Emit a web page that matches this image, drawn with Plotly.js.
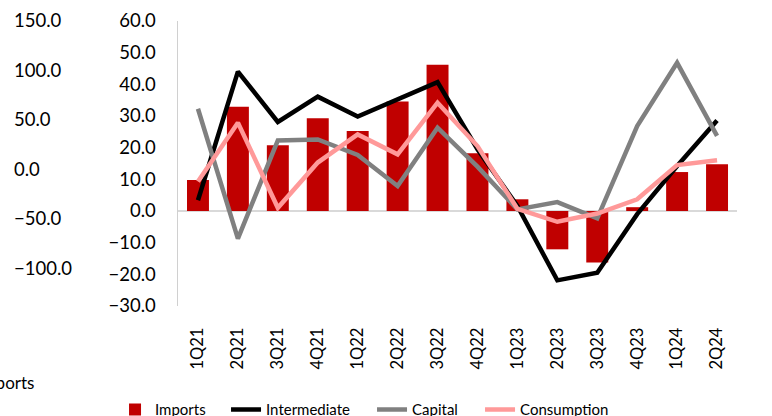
<!DOCTYPE html>
<html>
<head>
<meta charset="utf-8">
<script src="https://cdn.plot.ly/plotly-3.0.1.min.js"></script>
<style>html,body{margin:0;padding:0;background:#fff;}#chart{width:772px;height:416px;}</style>
</head>
<body>
<div id="chart"></div>
<script>
var quarters = ['1Q21','2Q21','3Q21','4Q21','1Q22','2Q22','3Q22','4Q22','1Q23','2Q23','3Q23','4Q23','1Q24','2Q24'];
var imports      = [9.8, 32.9, 20.8, 29.3, 25.3, 34.6, 46.2, 18.2, 3.7, -12.1, -16.3, 1.2, 12.3, 14.8];
var intermediate = [3.4, 44.0, 28.1, 36.1, 29.8, 35.3, 40.7, 19.5, 1.6, -21.9, -19.5, -1.0, 14.2, 28.6];
var capital      = [32.3, -8.7, 22.3, 22.6, 17.7, 7.9, 26.3, 14.0, 0.5, 2.8, -2.3, 26.8, 46.8, 23.7];
var consumption  = [9.3, 27.9, 1.0, 15.3, 24.2, 17.9, 34.2, 20.5, 0.7, -3.4, -0.8, 3.7, 14.5, 16.0];
var outerTicks   = [150, 100, 50, 0, -50, -100];

var FONT = 'Lato, "Open Sans", sans-serif';

var traces = [
  {type:'bar', name:'Imports', x:quarters, y:imports, marker:{color:'#C00000'}, width:0.55, legendwidth:66},
  {type:'scatter', mode:'lines', name:'Intermediate', x:quarters, y:intermediate, line:{color:'#000000', width:4.5}, legendwidth:101},
  {type:'scatter', mode:'lines', name:'Capital', x:quarters, y:capital, line:{color:'#808080', width:4.5}, legendwidth:63},
  {type:'scatter', mode:'lines', name:'Consumption', x:quarters, y:consumption, line:{color:'#FF9999', width:4.5}}
];

var layout = {
  width:772, height:416,
  margin:{l:10, r:35, t:21, b:110},
  paper_bgcolor:'#ffffff', plot_bgcolor:'#ffffff',
  font:{family:FONT, color:'#000000', size:16},
  showlegend:true,
  legend:{orientation:'h', xref:'container', yref:'container', x:0.149, y:0.015, xanchor:'left', yanchor:'middle',
          font:{family:FONT, size:15, color:'#000'}, bgcolor:'rgba(0,0,0,0)'},
  xaxis:{domain:[0.2311, 1], type:'category', showline:false, showgrid:false, zeroline:false,
         tickangle:-90, tickfont:{family:FONT, size:16.5, color:'#000'}, ticks:'outside', ticklen:14, tickcolor:'rgba(0,0,0,0)'},
  yaxis:{range:[-30, 60], dtick:10, tick0:0, tickformat:'.1f', showgrid:false,
         showline:true, linecolor:'#d0d0d0', linewidth:1.5,
         zeroline:true, zerolinecolor:'#d9d9d9', zerolinewidth:1.5,
         ticks:'outside', ticklen:17, tickcolor:'rgba(0,0,0,0)', tickfont:{family:FONT, size:18.5, color:'#000'}},
  yaxis2:{overlaying:'y', anchor:'free', position:0, side:'left', range:[-138.2, 150],
          tickvals:outerTicks, tickformat:'.1f', showgrid:false, zeroline:false, showline:false,
          ticklabelposition:'inside', ticklabeloverflow:'allow', ticks:'', tickfont:{family:FONT, size:18.5, color:'#000'}},
  annotations:[{text:'Imports', xref:'paper', yref:'paper', x:0.0358, y:-0.27, xanchor:'right', yanchor:'middle',
                showarrow:false, font:{family:FONT, size:17, color:'#000'}}]
};

// invisible trace to activate the outer axis
traces.push({type:'scatter', mode:'lines', x:[quarters[0]], y:[0], yaxis:'y2', showlegend:false, hoverinfo:'skip', line:{color:'rgba(0,0,0,0)'}});

Plotly.newPlot('chart', traces, layout, {displayModeBar:false, staticPlot:true});
</script>
</body>
</html>
